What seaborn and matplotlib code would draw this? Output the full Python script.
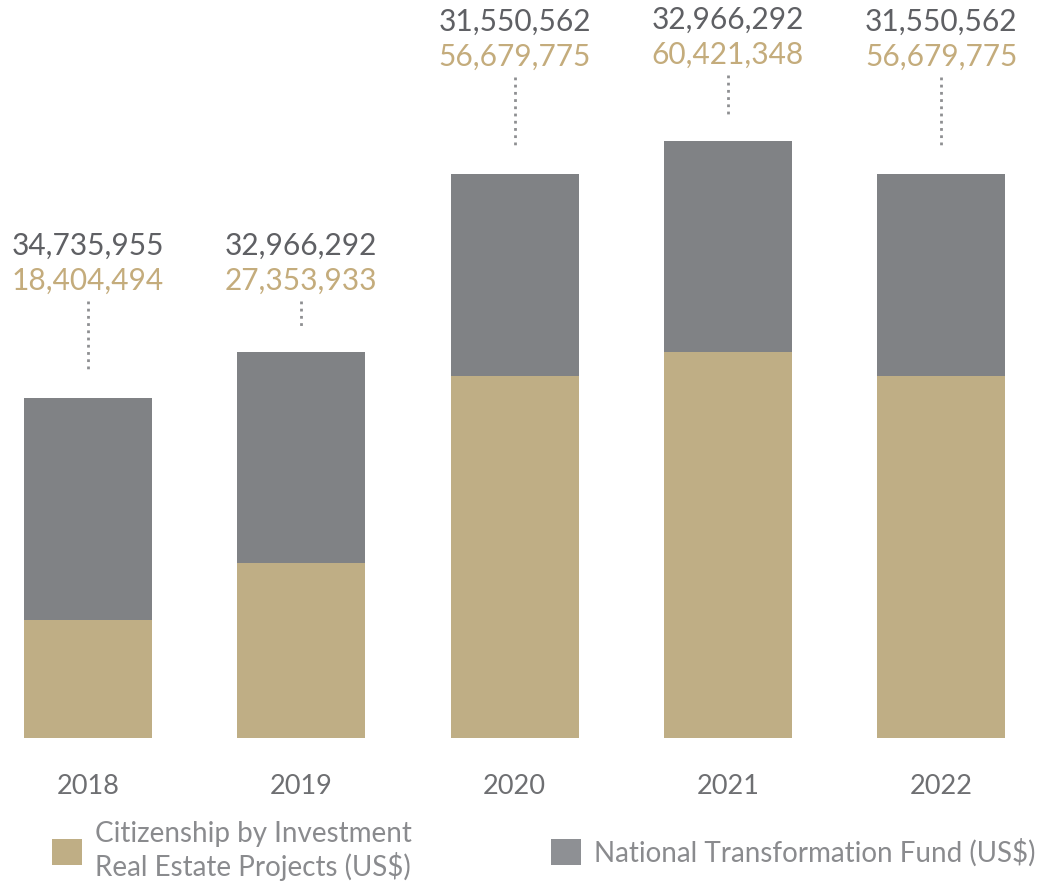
import matplotlib
matplotlib.use("Agg")
import matplotlib.pyplot as plt
from matplotlib.patches import Patch
import seaborn as sns
import pandas as pd

# data
years = ["2018", "2019", "2020", "2021", "2022"]
cbi_real_estate = [18404494, 27353933, 56679775, 60421348, 56679775]
ntf = [34735955, 32966292, 31550562, 32966292, 31550562]

# layout only: height of the gray label line for each bar (data units)
label_level = [77.0e6, 77.0e6, 112.0e6, 112.3e6, 112.0e6]

GOLD = "#BFAE85"
GRAY = "#808285"
GOLD_TXT = "#C4AC7C"
GRAY_TXT = "#5F6064"

sns.set_style("white")
plt.rcParams["font.family"] = ["Lato", "DejaVu Sans"]

df = pd.DataFrame({"year": years, "cbi": cbi_real_estate, "ntf": ntf})
df["total"] = df["cbi"] + df["ntf"]

fig = plt.figure(figsize=(10.49, 8.82), dpi=100)
ax = fig.add_axes([0, 0.1633, 1, 0.8367])

sns.barplot(data=df, x="year", y="total", color=GRAY, width=0.6,
            saturation=1, linewidth=0, ax=ax)
sns.barplot(data=df, x="year", y="cbi", color=GOLD, width=0.6,
            saturation=1, linewidth=0, ax=ax)

ax.set_xlim(-0.4125, 4.505)
ax.set_ylim(0, 115.4e6)
sns.despine(ax=ax, left=True, bottom=True)
ax.set_yticks([])
ax.set_xlabel("")
ax.set_ylabel("")
ax.tick_params(axis="x", length=0, pad=26, labelsize=19.5, labelcolor="#6E6F72")

for i, row in df.iterrows():
    top_lab = label_level[i]
    ax.text(i, top_lab, f"{row['ntf']:,}", ha="center", va="center",
            fontsize=21.5, color=GRAY_TXT)
    ax.text(i, top_lab - 5.5e6, f"{row['cbi']:,}", ha="center", va="center",
            fontsize=21.5, color=GOLD_TXT)
    ax.plot([i, i], [top_lab - 8.6e6, row["total"] + 4.0e6], color="#8E8F92",
            linestyle=(0, (1, 1.6)), lw=2)

handles = [Patch(color=GOLD, lw=0), Patch(color="#8E9094", lw=0)]
fig.legend(handles, ["Citizenship by Investment\nReal Estate Projects (US$)",
                     "National Transformation Fund (US$)"],
           loc="lower left", bbox_to_anchor=(0.0496, 0.001), ncol=2,
           frameon=False, borderpad=0, borderaxespad=0,
           fontsize=20, labelcolor="#8A8B8E", handlelength=1.08,
           handleheight=1.08, handletextpad=0.47, columnspacing=5.0,
           labelspacing=0.1)

fig.savefig("out.png", dpi=100)
